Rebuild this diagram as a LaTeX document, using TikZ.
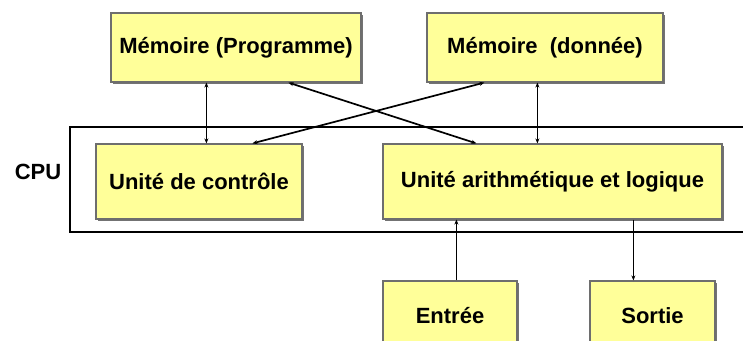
\documentclass[tikz,border=0pt]{standalone}
\usepackage{fontspec}
\setmainfont{Liberation Sans}
\usetikzlibrary{arrows.meta,positioning,shadows}

\definecolor{boxfill}{HTML}{FFFF99}
\definecolor{boxline}{HTML}{6E6E6E}

\tikzset{
    unit/.style={draw=boxline, fill=boxfill, line width=1.2pt, inner sep=0pt,
                 drop shadow={shadow xshift=1.5pt, shadow yshift=-1.5pt, fill=black!55, opacity=1},
                 font=\fontsize{22}{26}\selectfont\bfseries},
    link/.style={line width=1.7pt, {Stealth[length=5pt,width=4pt]}-{Stealth[length=5pt,width=4pt]}},
    feed/.style={line width=1.7pt, -{Stealth[length=5pt,width=4pt]}}
}

\begin{document}
\begin{tikzpicture}[x=1pt,y=-1pt]
    \useasboundingbox (0,0) rectangle (743,340);
    \clip (0,0) rectangle (743,340);

    \pgfmathsetmacro {\hm}{69}  %Height of memory and I/O boxes
    \pgfmathsetmacro {\hu}{75}  %Height of CPU units

    %CPU frame and label
    \draw[line width=2.2pt] (70,127) rectangle (760,232);
    \node[font=\fontsize{22}{26}\selectfont\bfseries] (cpu) at (38,172) {CPU};

    %Memories
    \node[unit, minimum width=250, minimum height=\hm] (mp) at (236,47.5) {Mémoire (Programme)};
    \node[unit, minimum width=236, minimum height=\hm] (md) at (545,47.5) {Mémoire~~(donnée)};

    %Units inside the CPU
    \node[unit, minimum width=206, minimum height=\hu] (uc)  at (199,181.5)   {Unité de contrôle};
    \node[unit, minimum width=339, minimum height=\hu] (ual) at (552.5,181.5) {Unité arithmétique et logique};

    %Input and output
    \node[unit, minimum width=134, minimum height=\hm] (en) at (450,315.5)   {Entrée};
    \node[unit, minimum width=125, minimum height=\hm] (so) at (652.5,315.5) {Sortie};

    %Memory buses
    \draw[link] ([xshift=96pt]mp.south west)  -- ([xshift=111pt]uc.north west);
    \draw[link] ([xshift=111pt]md.south west) -- ([xshift=155pt]ual.north west);
    \draw[link] ([xshift=178pt]mp.south west) -- ([xshift=94pt]ual.north west);
    \draw[link] ([xshift=157pt]uc.north west) -- ([xshift=58pt]md.south west);

    %Input and output lines
    \draw[feed] ([xshift=74pt]en.north west) -- ([xshift=74pt]ual.south west);
    \draw[feed, line width=1pt] ([xshift=251pt]ual.south west) -- ([xshift=44pt]so.north west);
\end{tikzpicture}
\end{document}
